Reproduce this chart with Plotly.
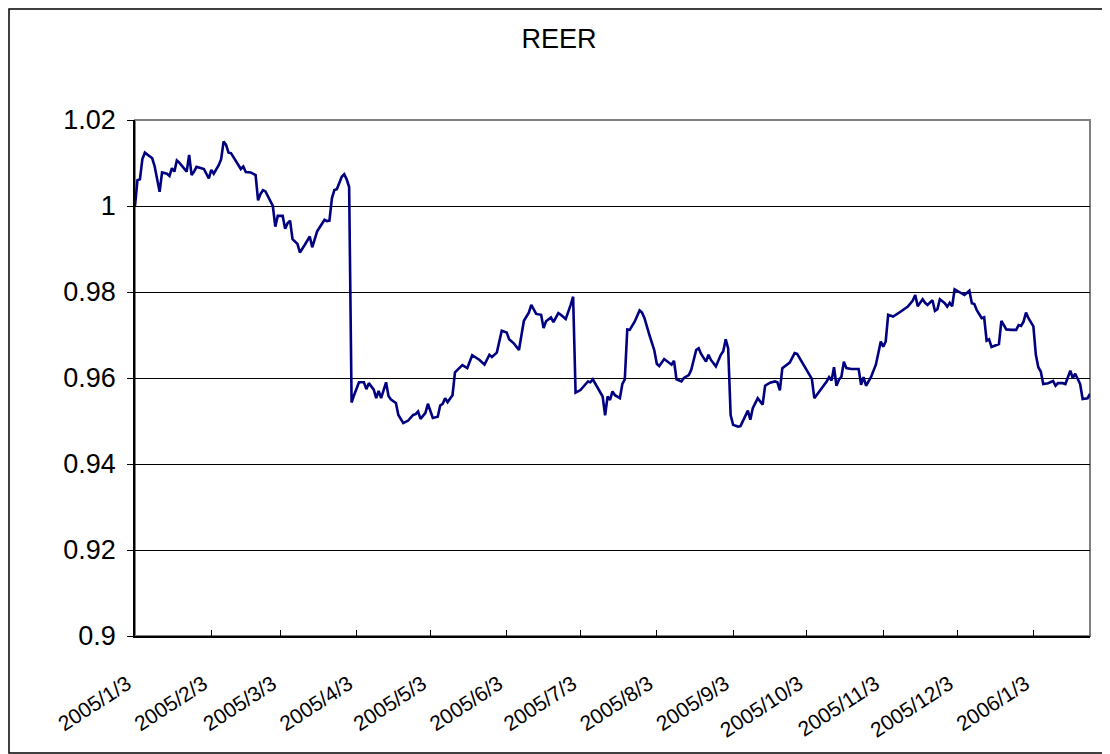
import plotly.graph_objects as go

# REER daily series
dates = [
    "2005-01-03", "2005-01-04", "2005-01-05", "2005-01-06", "2005-01-07", "2005-01-08", "2005-01-10", "2005-01-11",
    "2005-01-13", "2005-01-14", "2005-01-16", "2005-01-17", "2005-01-18", "2005-01-19", "2005-01-20", "2005-01-21",
    "2005-01-23", "2005-01-24", "2005-01-25", "2005-01-26", "2005-01-27", "2005-01-28", "2005-01-30", "2005-01-31",
    "2005-02-02", "2005-02-03", "2005-02-04", "2005-02-06", "2005-02-07", "2005-02-08", "2005-02-09", "2005-02-10",
    "2005-02-11", "2005-02-13", "2005-02-15", "2005-02-16", "2005-02-17", "2005-02-19", "2005-02-21", "2005-02-22",
    "2005-02-23", "2005-02-24", "2005-02-25", "2005-02-28",
    "2005-03-01", "2005-03-02", "2005-03-04", "2005-03-05", "2005-03-06", "2005-03-07", "2005-03-08", "2005-03-10",
    "2005-03-11", "2005-03-13", "2005-03-15", "2005-03-16", "2005-03-18", "2005-03-19", "2005-03-21", "2005-03-22",
    "2005-03-23", "2005-03-24", "2005-03-25", "2005-03-26", "2005-03-27", "2005-03-28", "2005-03-29", "2005-03-30",
    "2005-03-31",
    "2005-04-01", "2005-04-02", "2005-04-04", "2005-04-06", "2005-04-07", "2005-04-08", "2005-04-10", "2005-04-11",
    "2005-04-12", "2005-04-13", "2005-04-15", "2005-04-16", "2005-04-17", "2005-04-19", "2005-04-20", "2005-04-22",
    "2005-04-24", "2005-04-26", "2005-04-27", "2005-04-28", "2005-04-29",
    "2005-05-01", "2005-05-02", "2005-05-04", "2005-05-06", "2005-05-07", "2005-05-08", "2005-05-09", "2005-05-10",
    "2005-05-12", "2005-05-13", "2005-05-14", "2005-05-16", "2005-05-18", "2005-05-20", "2005-05-23", "2005-05-25",
    "2005-05-27", "2005-05-28", "2005-05-30",
    "2005-06-01", "2005-06-03", "2005-06-04", "2005-06-06", "2005-06-08", "2005-06-10", "2005-06-12", "2005-06-13",
    "2005-06-15", "2005-06-17", "2005-06-18", "2005-06-19", "2005-06-21", "2005-06-22", "2005-06-24", "2005-06-25",
    "2005-06-27", "2005-06-29", "2005-06-30",
    "2005-07-01", "2005-07-03", "2005-07-06", "2005-07-07", "2005-07-08", "2005-07-10", "2005-07-12", "2005-07-13",
    "2005-07-14", "2005-07-15", "2005-07-16", "2005-07-17", "2005-07-19", "2005-07-20", "2005-07-21", "2005-07-22",
    "2005-07-23", "2005-07-25", "2005-07-27", "2005-07-28", "2005-07-29", "2005-07-31",
    "2005-08-02", "2005-08-03", "2005-08-04", "2005-08-06", "2005-08-08", "2005-08-09", "2005-08-10", "2005-08-11",
    "2005-08-13", "2005-08-14", "2005-08-16", "2005-08-17", "2005-08-19", "2005-08-20", "2005-08-21", "2005-08-23",
    "2005-08-24", "2005-08-25", "2005-08-27", "2005-08-29", "2005-08-30", "2005-08-31",
    "2005-09-01", "2005-09-02", "2005-09-03", "2005-09-05", "2005-09-06", "2005-09-08", "2005-09-09", "2005-09-10",
    "2005-09-11", "2005-09-13", "2005-09-15", "2005-09-16", "2005-09-18", "2005-09-20", "2005-09-21", "2005-09-22",
    "2005-09-23", "2005-09-26", "2005-09-28", "2005-09-29", "2005-09-30",
    "2005-10-03", "2005-10-05", "2005-10-06", "2005-10-08", "2005-10-11", "2005-10-12", "2005-10-13", "2005-10-14",
    "2005-10-15", "2005-10-16", "2005-10-17", "2005-10-18", "2005-10-19", "2005-10-21", "2005-10-24", "2005-10-25",
    "2005-10-26", "2005-10-27", "2005-10-29", "2005-10-31",
    "2005-11-02", "2005-11-03", "2005-11-04", "2005-11-05", "2005-11-07", "2005-11-10", "2005-11-13", "2005-11-15",
    "2005-11-16", "2005-11-17", "2005-11-19", "2005-11-20", "2005-11-21", "2005-11-23", "2005-11-24", "2005-11-25",
    "2005-11-26", "2005-11-28", "2005-11-29", "2005-11-30",
    "2005-12-01", "2005-12-02", "2005-12-04", "2005-12-06", "2005-12-08", "2005-12-09", "2005-12-10", "2005-12-11",
    "2005-12-13", "2005-12-14", "2005-12-15", "2005-12-16", "2005-12-17", "2005-12-18", "2005-12-20", "2005-12-21",
    "2005-12-23", "2005-12-25", "2005-12-27", "2005-12-28", "2005-12-29", "2005-12-30", "2005-12-31",
    "2006-01-01", "2006-01-03", "2006-01-04", "2006-01-05", "2006-01-06", "2006-01-07", "2006-01-09", "2006-01-11",
    "2006-01-12", "2006-01-13", "2006-01-15", "2006-01-16", "2006-01-18", "2006-01-19", "2006-01-20", "2006-01-22",
    "2006-01-23", "2006-01-25", "2006-01-26",
]

reer = [
    # 2005/1
    1.000, 1.006, 1.0062, 1.0109, 1.0124, 1.012, 1.0111, 1.0092,
    1.0033, 1.0078, 1.0075, 1.007, 1.0088, 1.008, 1.0106, 1.0101,
    1.0088, 1.008, 1.0119, 1.0072, 1.008, 1.0091, 1.0088, 1.0086,
    # 2005/2
    1.0064, 1.0084, 1.0075, 1.0095, 1.0109, 1.015, 1.0142, 1.0124,
    1.0123, 1.0103, 1.0086, 1.0092, 1.0079, 1.0078, 1.0072, 1.0013,
    1.0028, 1.0037, 1.0034, 1.000,
    # 2005/3
    0.9952, 0.9977, 0.9977, 0.9947, 0.996, 0.9966, 0.9923, 0.9912,
    0.9892, 0.991, 0.9929, 0.9904, 0.9941, 0.995, 0.9968, 0.9965,
    0.9966, 1.0018, 1.0037, 1.0039, 1.0053, 1.0068, 1.0074, 1.0062,
    1.0044,
    # 2005/4
    0.9543, 0.956, 0.959, 0.959, 0.9574, 0.9588, 0.9573, 0.9553,
    0.957, 0.9553, 0.959, 0.9558, 0.955, 0.9542, 0.9514, 0.9495,
    0.9501, 0.9514, 0.9516, 0.9522, 0.9505,
    # 2005/5
    0.9519, 0.954, 0.9507, 0.951, 0.9536, 0.954, 0.9553, 0.9544,
    0.956, 0.9613, 0.9619, 0.963, 0.9623, 0.9653, 0.9642, 0.9631,
    0.9654, 0.9649, 0.9659,
    # 2005/6
    0.971, 0.9706, 0.969, 0.968, 0.9665, 0.9733, 0.9752, 0.977,
    0.9749, 0.9747, 0.9716, 0.9732, 0.9741, 0.973, 0.9751, 0.9747,
    0.9737, 0.977, 0.9789,
    # 2005/7
    0.9566, 0.9572, 0.9592, 0.959, 0.9597, 0.9577, 0.9557, 0.9513,
    0.9557, 0.9549, 0.9569, 0.956, 0.9553, 0.9586, 0.9597, 0.9713,
    0.9712, 0.9731, 0.9757, 0.9752, 0.9739, 0.970,
    # 2005/8
    0.9664, 0.9633, 0.9628, 0.9644, 0.9635, 0.9631, 0.964, 0.9597,
    0.9592, 0.960, 0.9607, 0.9619, 0.9665, 0.9669, 0.9656, 0.9638,
    0.9654, 0.9642, 0.9627, 0.9654, 0.9662, 0.969,
    # 2005/9
    0.9669, 0.9514, 0.9491, 0.9487, 0.9488, 0.9514, 0.9524, 0.9503,
    0.953, 0.9553, 0.9538, 0.9582, 0.9589, 0.9592, 0.959, 0.9571,
    0.9623, 0.9636, 0.9658, 0.9656, 0.9646,
    # 2005/10
    0.9619, 0.9598, 0.9553, 0.9568, 0.9592, 0.9602, 0.9594, 0.9625,
    0.9582, 0.9596, 0.9603, 0.9638, 0.9623, 0.9621, 0.9621, 0.9584,
    0.9602, 0.9582, 0.9602, 0.9631,
    # 2005/11
    0.9685, 0.9673, 0.9685, 0.9747, 0.9743, 0.9754, 0.9766, 0.978,
    0.9793, 0.9767, 0.9783, 0.9775, 0.977, 0.9781, 0.9756, 0.976,
    0.9783, 0.9774, 0.9766, 0.9775,
    # 2005/12
    0.9767, 0.9806, 0.9799, 0.9793, 0.9803, 0.9774, 0.9772, 0.9758,
    0.9739, 0.9741, 0.9687, 0.969, 0.9672, 0.9674, 0.9679, 0.9733,
    0.9713, 0.9712, 0.9712, 0.9723, 0.9721, 0.9731, 0.9752,
    # 2006/1
    0.9739, 0.972, 0.9654, 0.9625, 0.9615, 0.9586, 0.9588, 0.9593,
    0.9582, 0.9588, 0.9588, 0.9586, 0.9617, 0.960, 0.961, 0.9586,
    0.9551, 0.9553, 0.9563,
]

x_ticks = ["2005-01-03", "2005-02-03", "2005-03-03", "2005-04-03", "2005-05-03", "2005-06-03", "2005-07-03",
           "2005-08-03", "2005-09-03", "2005-10-03", "2005-11-03", "2005-12-03", "2006-01-03"]
x_labels = ["2005/1/3", "2005/2/3", "2005/3/3", "2005/4/3", "2005/5/3", "2005/6/3", "2005/7/3",
            "2005/8/3", "2005/9/3", "2005/10/3", "2005/11/3", "2005/12/3", "2006/1/3"]
y_ticks = [0.9, 0.92, 0.94, 0.96, 0.98, 1.0, 1.02]
y_labels = ["0.9", "0.92", "0.94", "0.96", "0.98", "1", "1.02"]

assert len(dates) == len(reer)

# the page body has an 8px margin, so the figure is a bit smaller than the window
W, H = 1102, 746
L, R, T, B = 127, 20, 112, 118
pw, ph = W - L - R, H - T - B

fig = go.Figure()
fig.add_trace(go.Scatter(
    x=dates, y=reer, mode="lines", name="REER",
    line=dict(color="#000080", width=2.6),
))

fig.update_layout(
    width=W, height=H,
    margin=dict(l=L, r=R, t=T, b=B),
    paper_bgcolor="white", plot_bgcolor="white",
    showlegend=False,
    font=dict(family="Liberation Sans, Arial, sans-serif", color="black"),
    title=dict(text="REER", x=0.5, xref="container", xanchor="center",
               y=1 - 31 / H, yanchor="middle", font=dict(size=27)),
    shapes=[
        # plot area frame (grey, Excel style)
        dict(type="rect", xref="paper", yref="paper", x0=0, x1=1, y0=0, y1=1,
             line=dict(color="#808080", width=2), layer="below"),
        # outer chart border
        dict(type="rect", xref="paper", yref="paper",
             x0=(-L + 1) / pw, x1=(W - L - 1) / pw,
             y0=(-B + 1) / ph, y1=1 + (T - 1) / ph,
             line=dict(color="black", width=1.5)),
    ],
)

fig.update_xaxes(
    type="date", range=["2005-01-03", "2006-01-26"],
    tickvals=x_ticks, ticktext=x_labels, tickangle=-33,
    tickfont=dict(size=21), ticks="inside", ticklen=6, tickcolor="black",
    showline=True, linecolor="black", linewidth=1.5,
    showgrid=False, zeroline=False, ticklabelstandoff=26, ticklabelshift=-8,
)
fig.update_yaxes(
    range=[0.9, 1.02], tickvals=y_ticks, ticktext=y_labels,
    tickfont=dict(size=27), ticks="outside", ticklen=6, tickcolor="black",
    showline=True, linecolor="black", linewidth=1.5,
    showgrid=True, gridcolor="black", gridwidth=1, zeroline=False,
    ticklabelstandoff=6,
)

fig.write_html("out.html")
